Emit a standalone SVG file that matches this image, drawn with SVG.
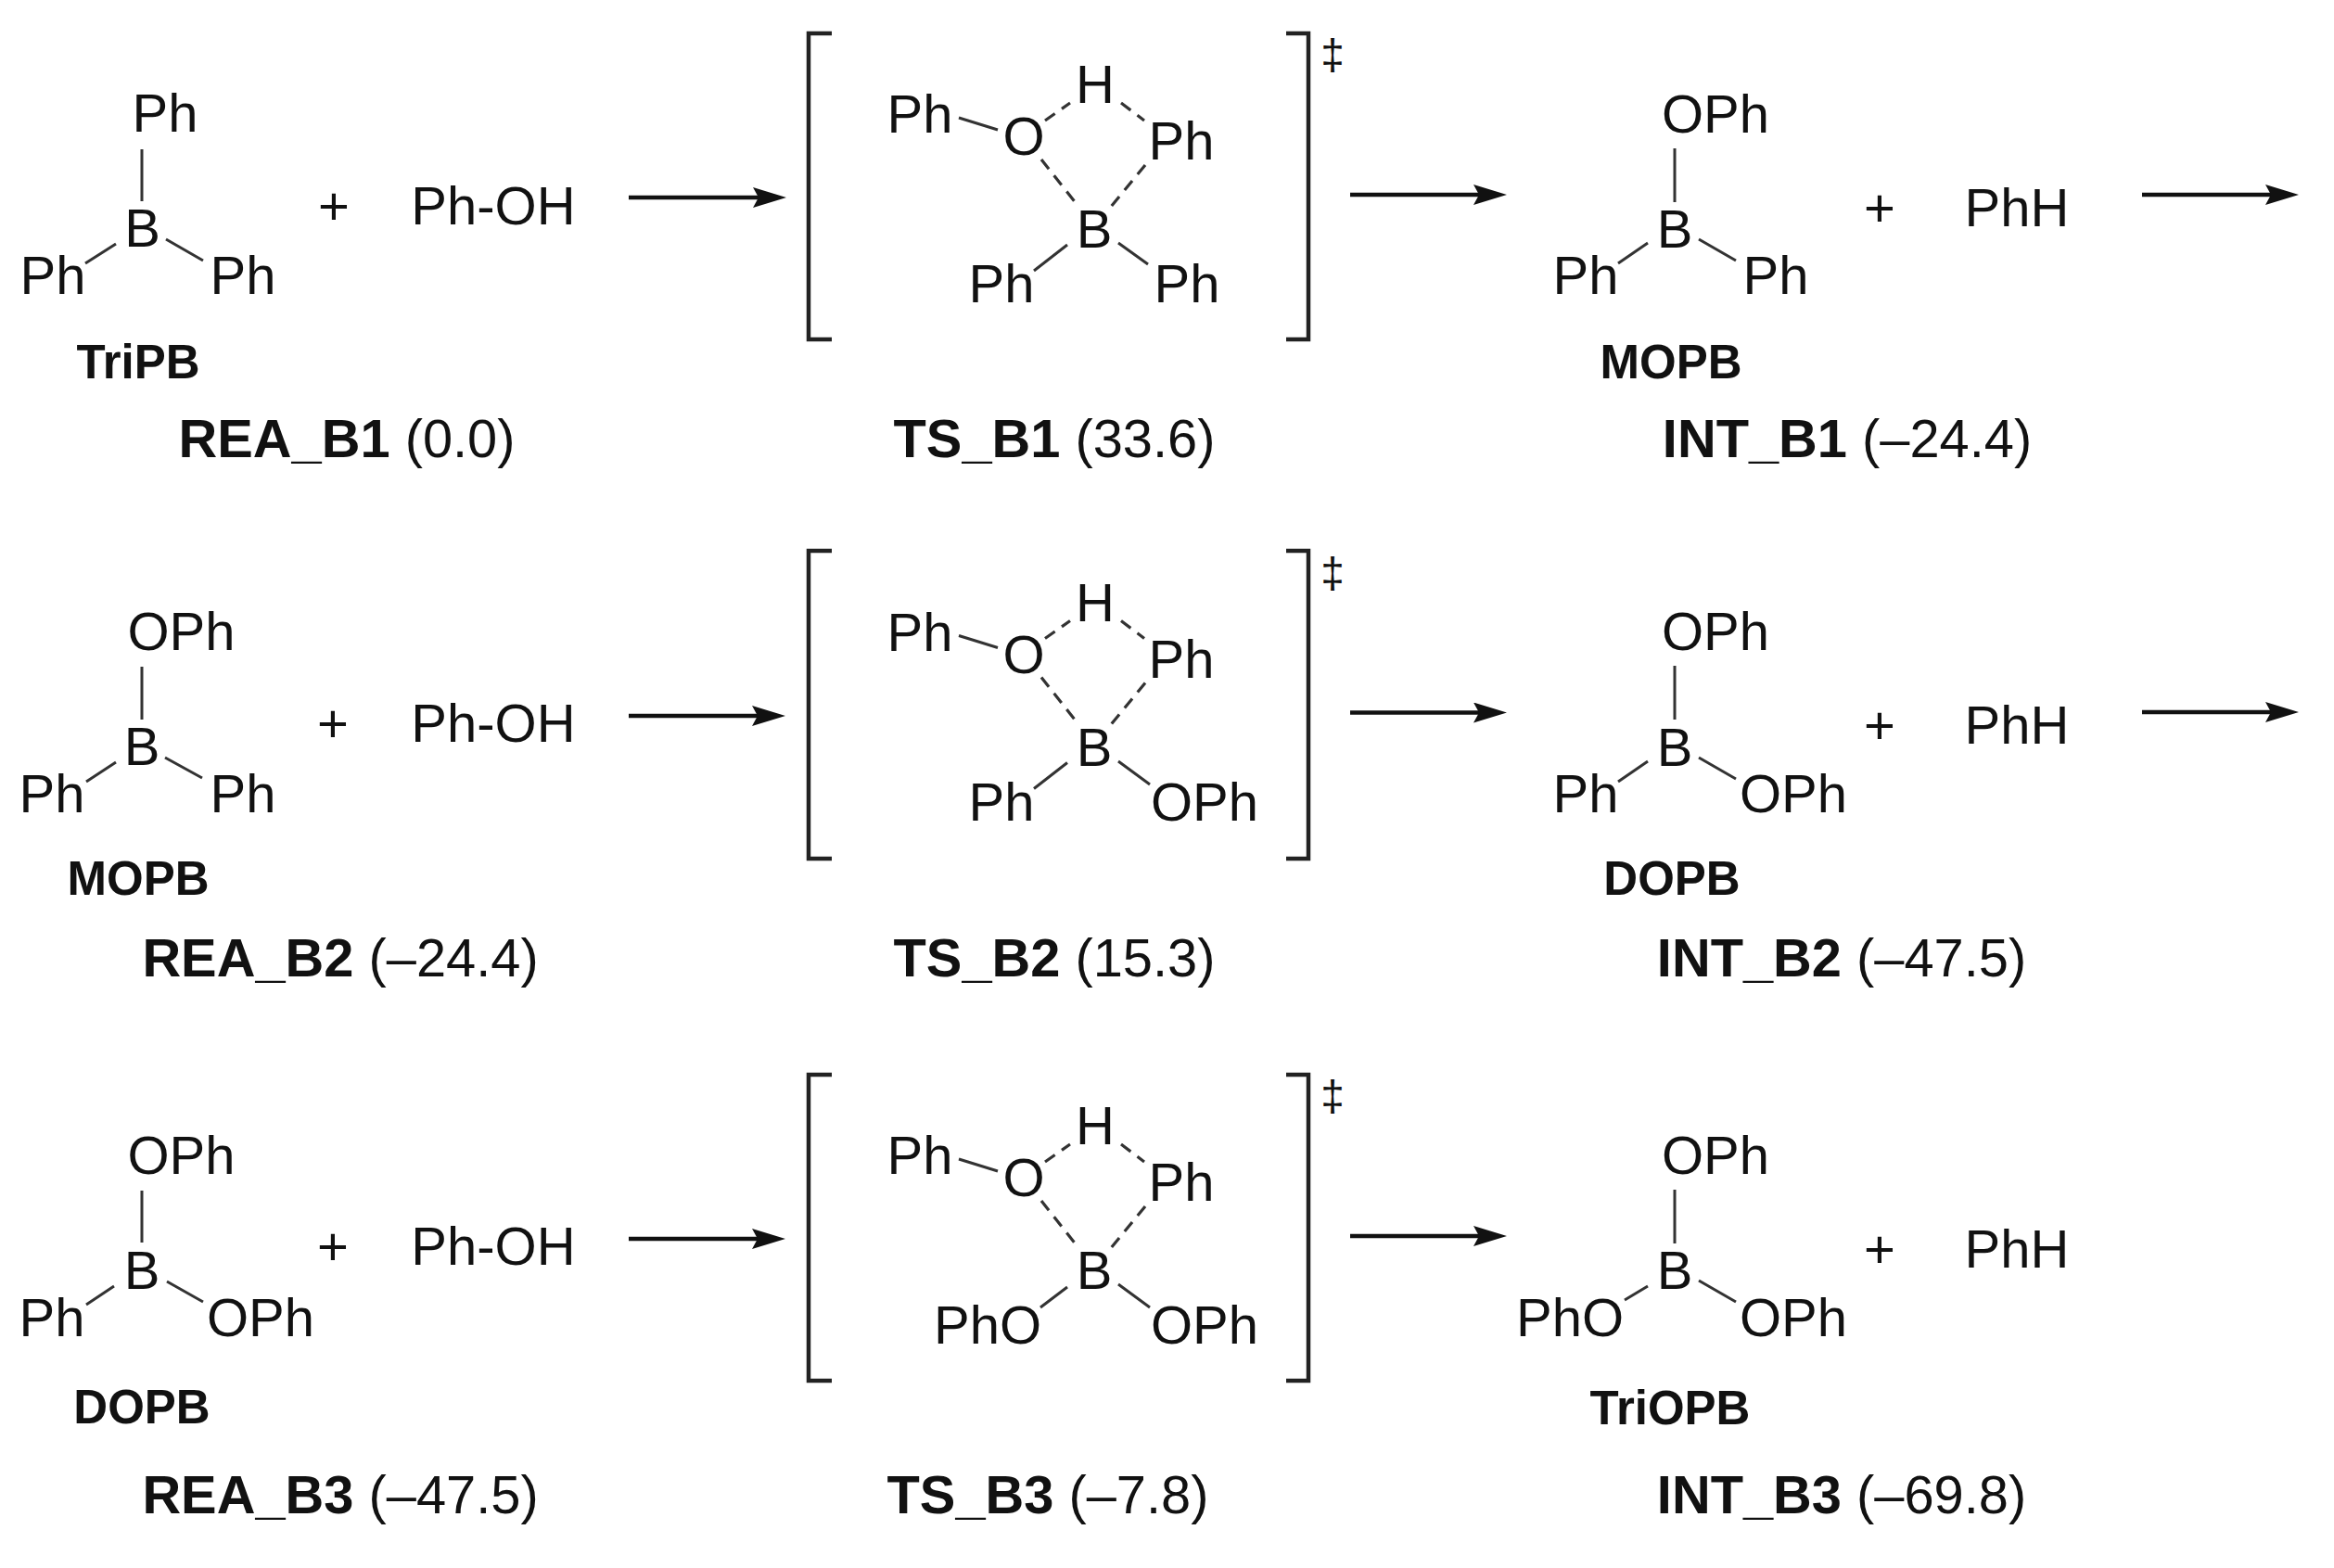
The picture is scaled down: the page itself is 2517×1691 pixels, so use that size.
<svg xmlns="http://www.w3.org/2000/svg" width="2517" height="1691" viewBox="0 0 2517 1691">
<style>
text{font-family:"Liberation Sans",Arial,sans-serif;fill:#111;text-anchor:middle;transform:translateY(-1px)}
.a{font-size:58px}
.n{font-size:51px;font-weight:700}
.l{font-size:57.800px}
.l tspan{font-weight:700}
.d{font-size:46px}
.b{stroke:#333;stroke-width:3;fill:none}
.h{stroke:#333;stroke-width:3.200;fill:none;stroke-dasharray:13 9}
.k{stroke:#222;stroke-width:4.500;fill:none}
.r{stroke:#111;stroke-width:4.500;fill:none}
</style>
<defs>
<marker id="head" markerUnits="userSpaceOnUse" viewBox="0 0 36 22" markerWidth="36" markerHeight="22" refX="25" refY="11" orient="auto"><path d="M0 0L36 11L0 22L6 11Z" fill="#111"/></marker>
</defs>
<rect width="2517" height="1691" fill="#fff"/>
<g id="connectors">
<path class="r" marker-end="url(#head)" d="M678 213H837"/>
<path class="r" marker-end="url(#head)" d="M1456 210H1614"/>
<path class="r" marker-end="url(#head)" d="M2310 210H2468"/>
<path class="r" marker-end="url(#head)" d="M678 772H836"/>
<path class="r" marker-end="url(#head)" d="M1456 768.500H1614"/>
<path class="r" marker-end="url(#head)" d="M2310 768H2468"/>
<path class="r" marker-end="url(#head)" d="M678 1336H836"/>
<path class="r" marker-end="url(#head)" d="M1456 1333H1614"/>
</g>
<g id="REA_B1">
<path class="b" d="M153 161V217M125 263L92 284M179 258L219 281"/>
<text class="a" x="178" y="143">Ph</text><text class="a" x="153.500" y="267">B</text><text class="a" x="57" y="318">Ph</text><text class="a" x="262" y="318">Ph</text>
<text class="a" x="360" y="243">+</text><text class="a" x="532" y="243">Ph-OH</text>
<text class="n" x="149" y="409">TriPB</text>
<text class="l" x="374" y="494"><tspan>REA_B1</tspan> (0.0)</text>
</g>
<g id="TS_B1">
<path class="k" d="M897 36H872V366H897M1387 36H1411V366H1387"/>
<path class="b" d="M1034 127L1076 140M1151 264L1115 292M1206 262L1238 285"/>
<path class="h" d="M1127 130L1154 111M1209 111L1234 130M1123 172L1161 220M1235 178L1198 223"/>
<text class="d" x="1437" y="76">‡</text>
<text class="a" x="992" y="144">Ph</text><text class="a" x="1181" y="112">H</text><text class="a" x="1104" y="168">O</text><text class="a" x="1274" y="173">Ph</text><text class="a" x="1180" y="268">B</text><text class="a" x="1080" y="327">Ph</text><text class="a" x="1280" y="327">Ph</text>
<text class="l" x="1137" y="494"><tspan>TS_B1</tspan> (33.6)</text>
</g>
<g id="INT_B1">
<path class="b" d="M1806 160V218M1777 262L1745 284M1832 258L1872 281"/>
<text class="a" x="1850" y="144">OPh</text><text class="a" x="1806" y="268">B</text><text class="a" x="1710" y="318">Ph</text><text class="a" x="1915" y="318">Ph</text>
<text class="a" x="2027" y="245">+</text><text class="a" x="2175" y="245">PhH</text>
<text class="n" x="1802" y="409">MOPB</text>
<text class="l" x="1992" y="494"><tspan>INT_B1</tspan> (–24.4)</text>
</g>
<g id="REA_B2">
<path class="b" d="M153 719V776M125 822L93 843M178 817L218 839"/>
<text class="a" x="195.500" y="702">OPh</text><text class="a" x="153" y="826">B</text><text class="a" x="56" y="877">Ph</text><text class="a" x="262" y="877">Ph</text>
<text class="a" x="359" y="801">+</text><text class="a" x="532" y="801">Ph-OH</text>
<text class="n" x="149" y="966">MOPB</text>
<text class="l" x="367" y="1054"><tspan>REA_B2</tspan> (–24.4)</text>
</g>
<g id="TS_B2">
<path class="k" d="M897 594H872V926H897M1387 594H1411V926H1387"/>
<path class="b" d="M1034 685.500L1076 698.500M1151 822.500L1115 850.500M1206 821L1240 846"/>
<path class="h" d="M1127 688.500L1154 669.500M1209 669.500L1234 688.500M1123 730.500L1161 778.500M1235 736.500L1198 781.500"/>
<text class="d" x="1437" y="634.500">‡</text>
<text class="a" x="992" y="702.500">Ph</text><text class="a" x="1181" y="670.500">H</text><text class="a" x="1104" y="727">O</text><text class="a" x="1274" y="731.500">Ph</text><text class="a" x="1180" y="826.500">B</text><text class="a" x="1080" y="885.500">Ph</text><text class="a" x="1299" y="885.500">OPh</text>
<text class="l" x="1137" y="1054"><tspan>TS_B2</tspan> (15.3)</text>
</g>
<g id="INT_B2">
<path class="b" d="M1806 718V776M1777 821L1745 843M1832 817L1872 840"/>
<text class="a" x="1850" y="702">OPh</text><text class="a" x="1806" y="827">B</text><text class="a" x="1710" y="877">Ph</text><text class="a" x="1934" y="877">OPh</text>
<text class="a" x="2027" y="803">+</text><text class="a" x="2175" y="803">PhH</text>
<text class="n" x="1803" y="966">DOPB</text>
<text class="l" x="1986" y="1054"><tspan>INT_B2</tspan> (–47.5)</text>
</g>
<g id="REA_B3">
<path class="b" d="M153 1284V1340M123 1387L93 1407M180 1382L219 1404"/>
<text class="a" x="195.500" y="1267">OPh</text><text class="a" x="153" y="1391">B</text><text class="a" x="56" y="1442">Ph</text><text class="a" x="281" y="1442">OPh</text>
<text class="a" x="359" y="1365">+</text><text class="a" x="532" y="1365">Ph-OH</text>
<text class="n" x="153" y="1536">DOPB</text>
<text class="l" x="367" y="1633"><tspan>REA_B3</tspan> (–47.5)</text>
</g>
<g id="TS_B3">
<path class="k" d="M897 1159H872V1489H897M1387 1159H1411V1489H1387"/>
<path class="b" d="M1034 1250L1076 1263M1151 1388L1122 1410M1206 1385L1240 1410"/>
<path class="h" d="M1127 1253L1154 1234M1209 1234L1234 1253M1123 1295L1161 1343M1235 1301L1198 1346"/>
<text class="d" x="1437" y="1199">‡</text>
<text class="a" x="992" y="1267">Ph</text><text class="a" x="1181" y="1235">H</text><text class="a" x="1104" y="1291">O</text><text class="a" x="1274" y="1296">Ph</text><text class="a" x="1180" y="1391">B</text><text class="a" x="1065" y="1450">PhO</text><text class="a" x="1299" y="1450">OPh</text>
<text class="l" x="1130" y="1633"><tspan>TS_B3</tspan> (–7.8)</text>
</g>
<g id="INT_B3">
<path class="b" d="M1806 1283V1341M1777 1387L1752 1402M1832 1381L1872 1404"/>
<text class="a" x="1850" y="1267">OPh</text><text class="a" x="1806" y="1391">B</text><text class="a" x="1693" y="1442">PhO</text><text class="a" x="1934" y="1442">OPh</text>
<text class="a" x="2027" y="1368">+</text><text class="a" x="2175" y="1368">PhH</text>
<text class="n" x="1801" y="1537">TriOPB</text>
<text class="l" x="1986" y="1633"><tspan>INT_B3</tspan> (–69.8)</text>
</g>
</svg>
